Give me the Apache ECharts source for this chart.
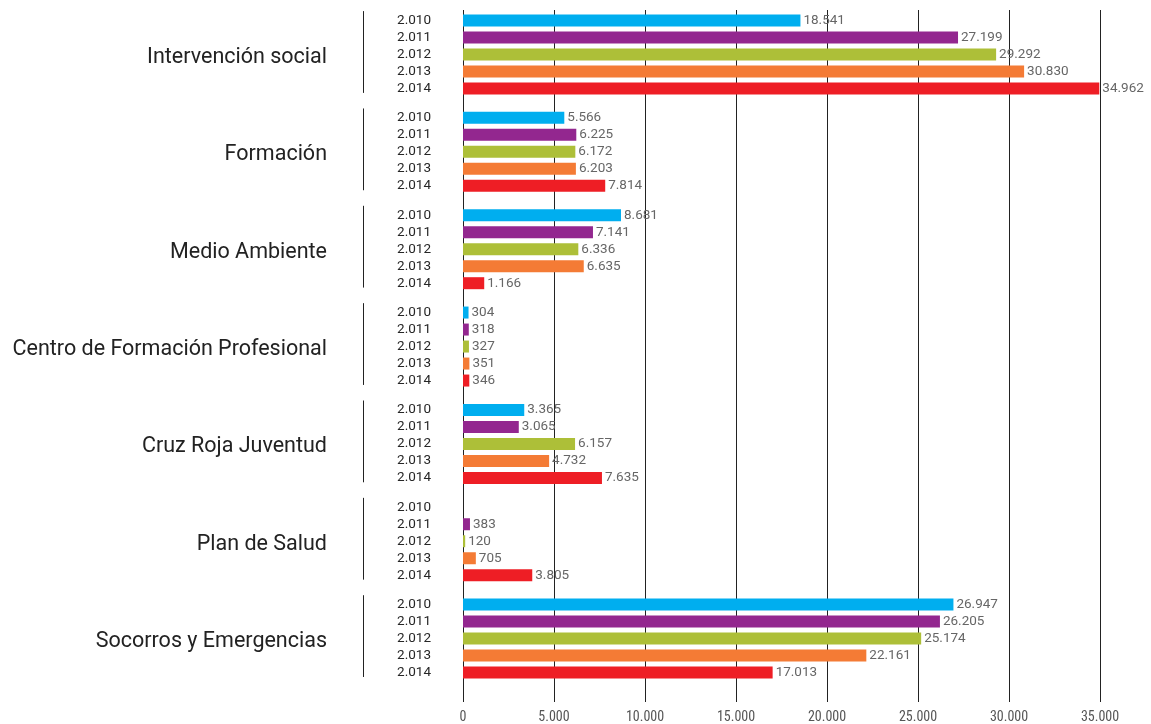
<!DOCTYPE html>
<html><head><meta charset="utf-8">
<script src="https://cdn.jsdelivr.net/npm/echarts@6/dist/echarts.min.js"></script>
<style>html,body{margin:0;padding:0;background:#fff}#c{width:1151px;height:724px}</style>
</head><body><div id="c"></div>
<script>
const categories = ['Intervención social','Formación','Medio Ambiente','Centro de Formación Profesional','Cruz Roja Juventud','Plan de Salud','Socorros y Emergencias'];
const years = ['2.010','2.011','2.012','2.013','2.014'];
const v2010 = [18541, 5566, 8681, 304, 3365, null, 26947];
const v2011 = [27199, 6225, 7141, 318, 3065, 383, 26205];
const v2012 = [29292, 6172, 6336, 327, 6157, 120, 25174];
const v2013 = [30830, 6203, 6635, 351, 4732, 705, 22161];
const v2014 = [34962, 7814, 1166, 346, 7635, 3805, 17013];
const xTicks = {min: 0, max: 35000, interval: 5000};

const yearValues = [v2010, v2011, v2012, v2013, v2014];
const colors = ['#00AEEF', '#93278F', '#ADBF38', '#F47B35', '#EE1E25'];
const fmt = v => String(Math.round(v)).replace(/\B(?=(\d{3})+(?!\d))/g, '.');

const LEFT = 463, WIDTH = 637, TOP0 = 12, PITCH = 97.35, GH = 85;
const grids = [], xAxes = [], yAxes = [], series = [];
grids.push({left: LEFT, width: WIDTH, top: 10, height: 693});
xAxes.push({gridIndex: 0, type: 'value', min: xTicks.min, max: xTicks.max, interval: xTicks.interval,
  axisLine: {show: false}, axisTick: {show: false},
  splitLine: {show: true, lineStyle: {color: '#222', width: 1}},
  axisLabel: {formatter: v => v === 0 ? '0' : fmt(v), color: '#555', fontSize: 14,
    fontFamily: '"Roboto Condensed","Liberation Sans Narrow","Roboto",sans-serif', margin: 8}});
yAxes.push({gridIndex: 0, type: 'value', show: false, min: 0, max: 1});

function addGrid(top, height) {
  const gi = grids.length;
  grids.push({left: LEFT, width: WIDTH, top: top, height: height});
  return gi;
}

categories.forEach((cat, i) => {
  // bars
  let gi = addGrid(TOP0 + PITCH * i, GH);
  xAxes.push({gridIndex: gi, type: 'value', min: xTicks.min, max: xTicks.max, show: false, splitLine: {show: false}});
  yAxes.push({gridIndex: gi, type: 'category', data: years, inverse: true,
    axisLine: {show: false}, axisTick: {show: false}, splitLine: {show: false},
    axisLabel: {interval: 0, color: '#262626', fontSize: 13.5, fontWeight: 'normal', fontFamily: 'Roboto, sans-serif', margin: 32}});
  series.push({type: 'bar', xAxisIndex: xAxes.length - 1, yAxisIndex: yAxes.length - 1, barWidth: 12,
    data: yearValues.map((arr, k) => ({value: arr[i], itemStyle: {color: colors[k]}})),
    label: {show: true, position: 'right', distance: 3, color: '#666', fontSize: 13.5,
      fontFamily: 'Roboto, sans-serif', formatter: p => p.value == null ? '' : fmt(p.value)},
    animation: false});
  // separator line
  gi = addGrid(TOP0 - 0.5 + PITCH * i, 81);
  xAxes.push({gridIndex: gi, type: 'value', min: 0, max: 1, show: false, splitLine: {show: false}});
  yAxes.push({gridIndex: gi, type: 'category', data: [cat], position: 'left', offset: 100,
    axisLine: {show: true, onZero: false, lineStyle: {color: '#222', width: 1}}, axisTick: {show: false},
    splitLine: {show: false}, axisLabel: {show: false}});
  // group name
  gi = addGrid(TOP0 + 5 + PITCH * i, 81);
  xAxes.push({gridIndex: gi, type: 'value', min: 0, max: 1, show: false, splitLine: {show: false}});
  yAxes.push({gridIndex: gi, type: 'category', data: [cat], position: 'left', offset: 100,
    axisLine: {show: false}, axisTick: {show: false}, splitLine: {show: false},
    axisLabel: {interval: 0, color: '#222', fontSize: 21.5, fontFamily: 'Roboto, sans-serif', margin: 36}});
});

const chart = echarts.init(document.getElementById('c'), null, {renderer: 'canvas'});
chart.setOption({animation: false, grid: grids, xAxis: xAxes, yAxis: yAxes, series: series});
</script></body></html>
